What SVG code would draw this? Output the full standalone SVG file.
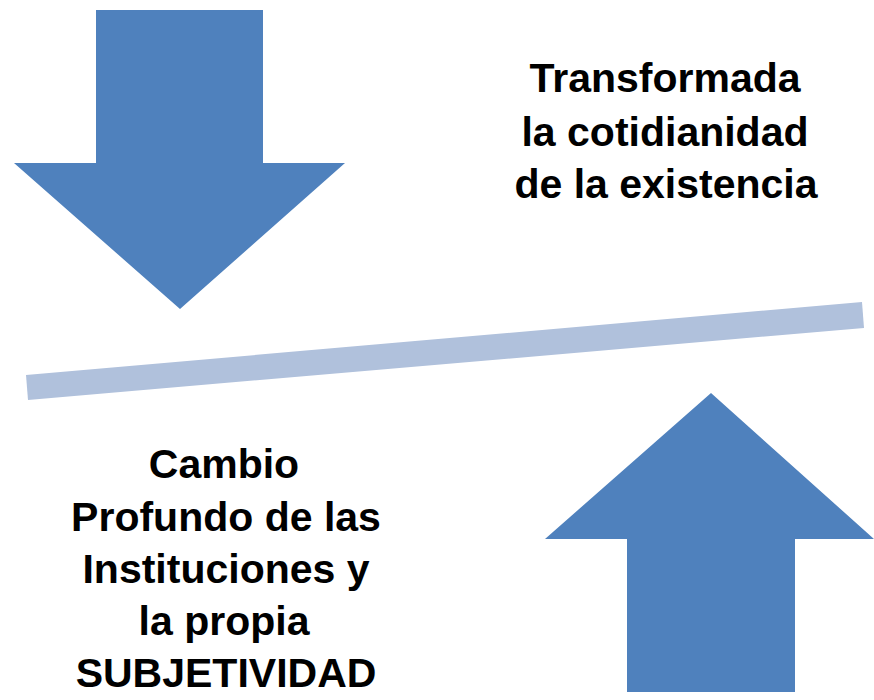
<svg xmlns="http://www.w3.org/2000/svg" width="874" height="700" viewBox="0 0 874 700">
<style>
.arrow{fill:#4F81BD}
.bar{fill:#B0C1DC}
.t{font-family:"Liberation Sans",Arial,sans-serif;font-weight:bold;font-size:41px;fill:#000;text-anchor:middle}
</style>
<rect width="874" height="700" fill="#fff"/>
<g id="down-arrow"><polygon class="arrow" points="96,10 263,10 263,163 345,163 180,309 14,163 96,163"/></g>
<g id="up-arrow"><polygon class="arrow" points="711,393 874,539 795,539 795,692 627,692 627,539 545,539"/></g>
<g id="balance-bar"><polygon class="bar" points="26,375 862,302 864,328 28,400"/></g>
<g id="text-top">
<text class="t" x="665" y="92">Transformada</text>
<text class="t" x="665" y="146">la cotidianidad</text>
<text class="t" x="666" y="198">de la existencia</text>
</g>
<g id="text-bottom">
<text class="t" x="224" y="478">Cambio</text>
<text class="t" x="226" y="531">Profundo de las</text>
<text class="t" x="226" y="583">Instituciones y</text>
<text class="t" x="224" y="635">la propia</text>
<text class="t" x="226" y="687">SUBJETIVIDAD</text>
</g>
</svg>
